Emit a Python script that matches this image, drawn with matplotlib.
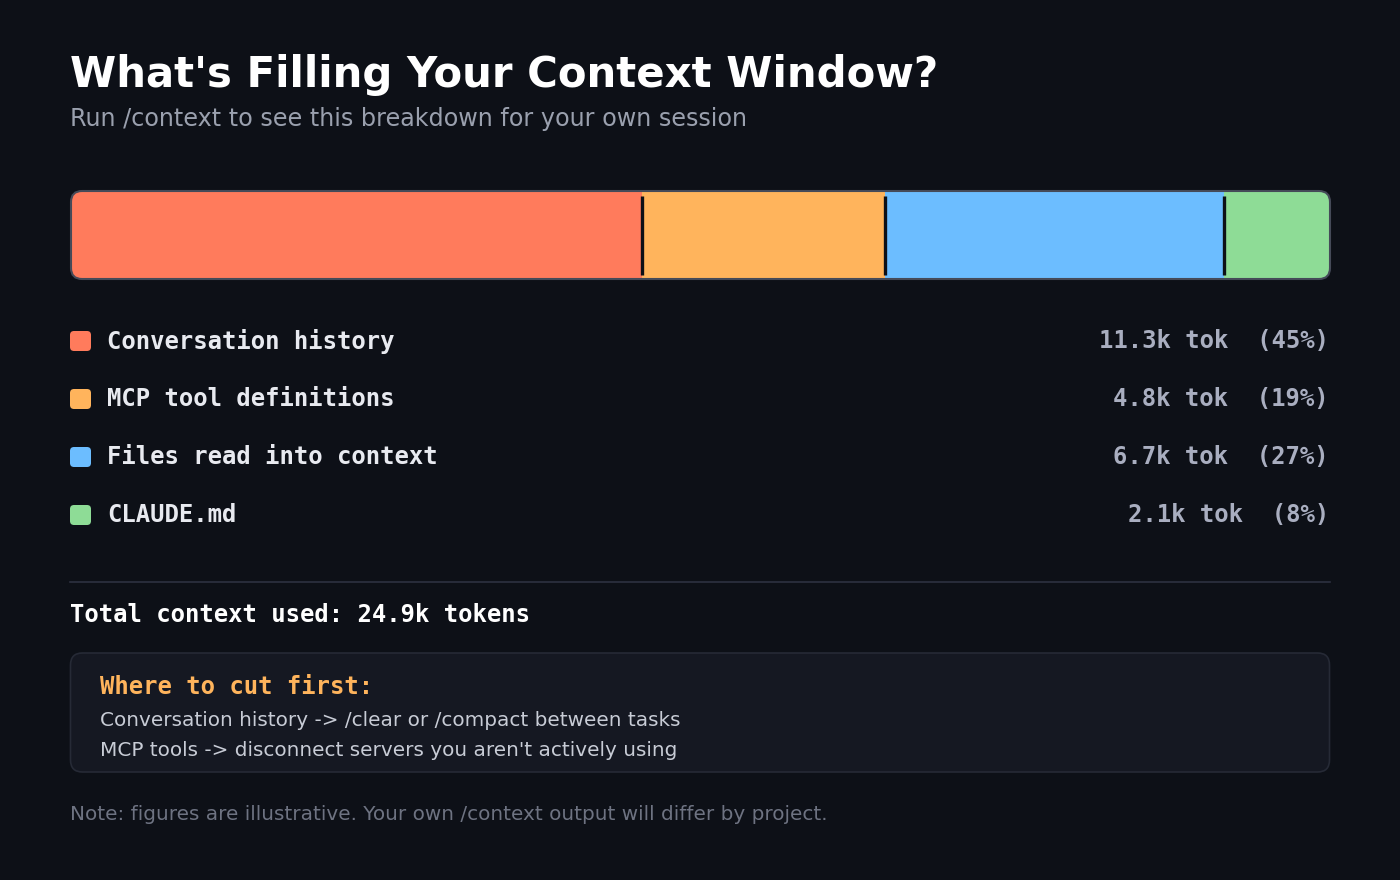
import matplotlib
matplotlib.use("Agg")
import matplotlib.pyplot as plt
from matplotlib.patches import FancyBboxPatch, Rectangle

# ---- data ----
categories = ["Conversation history", "MCP tool definitions",
              "Files read into context", "CLAUDE.md"]
tokens_k = [11.3, 4.8, 6.7, 2.1]
percents = [45, 19, 27, 8]
colors = ["#FF7B5C", "#FFB45C", "#6CBDFF", "#8EDC96"]
total_k = 24.9
tips = ["Conversation history -> /clear or /compact between tasks",
        "MCP tools -> disconnect servers you aren't actively using"]

BG = "#0D1017"
MONO = ["DejaVu Sans Mono"]
SANS = ["DejaVu Sans"]

fig = plt.figure(figsize=(14, 8.8), dpi=100, facecolor=BG)
ax = fig.add_axes([0, 0, 1, 1])
ax.set_xlim(0, 1400)
ax.set_ylim(880, 0)
ax.axis("off")
ax.set_facecolor(BG)

# ---- title ----
ax.text(70, 75, "What's Filling Your Context Window?", fontsize=30.2,
        fontweight="bold", color="#FFFFFF", family=SANS, va="center")
ax.text(70, 119, "Run /context to see this breakdown for your own session",
        fontsize=17.2, color="#9AA0AE", family=SANS, va="center")

# ---- stacked bar ----
x0, x1, y0, y1 = 71, 1330, 191, 279
width = x1 - x0
clip = FancyBboxPatch((x0, y0), width, y1 - y0,
                      boxstyle="round,pad=0,rounding_size=11",
                      fc="none", ec="none")
ax.add_patch(clip)
left = x0
edges = []
for tok, col in zip(tokens_k, colors):
    w = width * tok / total_k
    r = Rectangle((left, y0), w, y1 - y0, fc=col, ec="none", zorder=2)
    ax.add_patch(r)
    r.set_clip_path(clip)
    left += w
    edges.append(left)
for e in edges[:-1]:
    ax.plot([e, e], [196, 275], color="#0D1017", lw=2.4, zorder=3,
            solid_capstyle="butt")
ax.add_patch(FancyBboxPatch((x0, y0), width, y1 - y0,
                            boxstyle="round,pad=0,rounding_size=11",
                            fc="none", ec="#454A58", lw=1.5, zorder=4))

# ---- legend rows ----
row_y = [341, 399, 457, 515]
for yy, cat, tok, pct, col in zip(row_y, categories, tokens_k, percents, colors):
    ax.add_patch(FancyBboxPatch((70, yy - 10), 21, 20,
                                boxstyle="round,pad=0,rounding_size=4",
                                fc=col, ec="none"))
    ax.text(107, yy, cat, fontsize=17.2, fontweight="bold", color="#E8EAF0",
            family=MONO, va="center")
    ax.text(1329, yy, f"{tok}k tok  ({pct}%)", fontsize=17.2,
            fontweight="bold", color="#A9AEC0", family=MONO,
            va="center", ha="right")

# ---- separator + total ----
ax.plot([70, 1330], [582.5, 582.5], color="#2D3140", lw=1.2)
ax.text(70, 615, f"Total context used: {total_k}k tokens", fontsize=17.2,
        fontweight="bold", color="#FFFFFF", family=MONO, va="center")

# ---- tips box ----
ax.add_patch(FancyBboxPatch((70.5, 653), 1259, 119,
                            boxstyle="round,pad=0,rounding_size=12",
                            fc="#151822", ec="#262A36", lw=1.2))
ax.text(100, 687, "Where to cut first:", fontsize=17.2, fontweight="bold",
        color="#FFB45C", family=MONO, va="center")
for yy, tip in zip([720, 750], tips):
    ax.text(100, yy, tip, fontsize=14.4, color="#C8CCD6", family=SANS,
            va="center")

# ---- note ----
ax.text(70, 814, "Note: figures are illustrative. Your own /context output will differ by project.",
        fontsize=14.4, color="#6E7382", family=SANS, va="center")

fig.savefig("out.png", dpi=100, facecolor=BG)
